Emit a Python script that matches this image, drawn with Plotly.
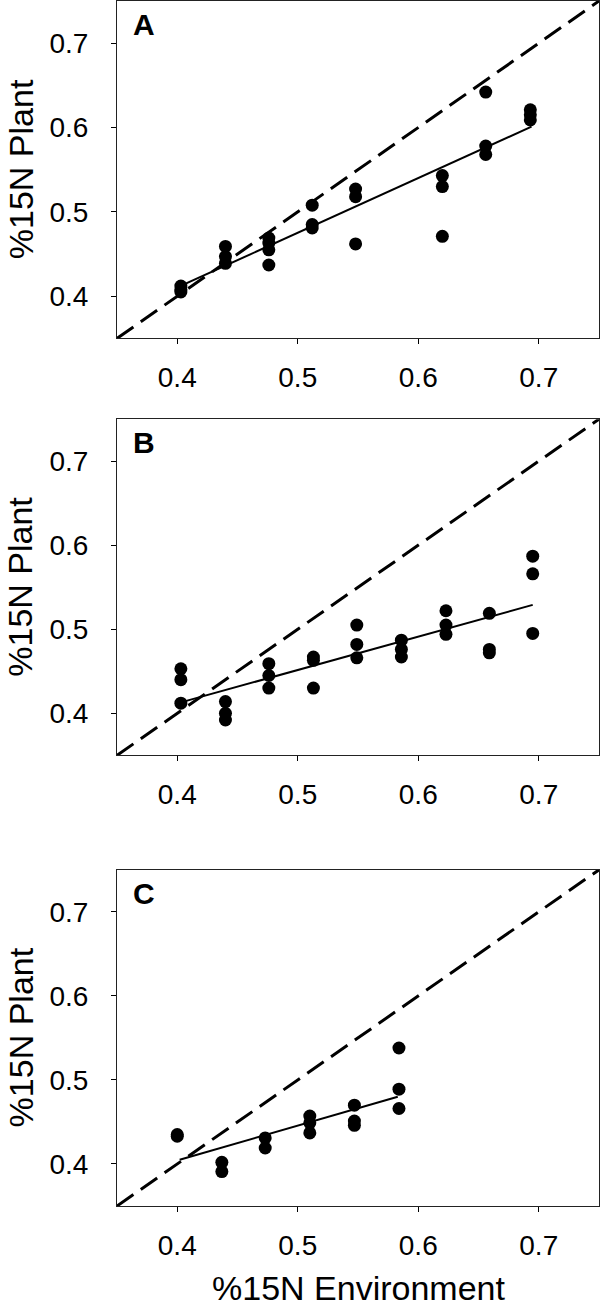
import plotly.graph_objects as go
from plotly.subplots import make_subplots

# --- data ---
panels = ["A", "B", "C"]

env_A = [0.403, 0.403, 0.403,
         0.440, 0.440, 0.440,
         0.476, 0.476, 0.476, 0.476,
         0.512, 0.512, 0.512,
         0.548, 0.548, 0.548,
         0.620, 0.620, 0.620,
         0.656, 0.656, 0.656,
         0.693, 0.693, 0.693]
plant_A = [0.412, 0.405, 0.408,
           0.459, 0.447, 0.439,
           0.469, 0.463, 0.455, 0.437,
           0.508, 0.485, 0.481,
           0.527, 0.518, 0.462,
           0.543, 0.530, 0.471,
           0.642, 0.578, 0.568,
           0.621, 0.615, 0.609]

env_B = [0.403, 0.403, 0.403,
         0.440, 0.440, 0.440,
         0.476, 0.476, 0.476,
         0.513, 0.513, 0.513,
         0.549, 0.549, 0.549,
         0.586, 0.586, 0.586,
         0.623, 0.623, 0.623,
         0.659, 0.659, 0.659,
         0.695, 0.695, 0.695]
plant_B = [0.453, 0.440, 0.412,
           0.414, 0.400, 0.392,
           0.459, 0.445, 0.430,
           0.467, 0.463, 0.430,
           0.505, 0.482, 0.466,
           0.487, 0.476, 0.467,
           0.522, 0.505, 0.494,
           0.519, 0.476, 0.472,
           0.587, 0.566, 0.495]

env_C = [0.400, 0.400,
         0.437, 0.437,
         0.473, 0.473,
         0.510, 0.510, 0.510,
         0.547, 0.547, 0.547,
         0.584, 0.584, 0.584]
plant_C = [0.435, 0.433,
           0.402, 0.391,
           0.431, 0.419,
           0.457, 0.449, 0.437,
           0.470, 0.451, 0.446,
           0.538, 0.489, 0.466]

# fitted regression lines (end points)
fit_x = {"A": [0.401, 0.694], "B": [0.403, 0.695], "C": [0.402, 0.583]}
fit_y = {"A": [0.411, 0.601], "B": [0.413, 0.529], "C": [0.405, 0.480]}

# 1:1 line
one_to_one = [0.35, 0.75]

tick_vals = [0.4, 0.5, 0.6, 0.7]
tick_text = ["0.4", "0.5", "0.6", "0.7"]

y_title = "%15N Plant"
x_title = "%15N Environment"

env = {"A": env_A, "B": env_B, "C": env_C}
plant = {"A": plant_A, "B": plant_B, "C": plant_C}

FONT = "Arial, Liberation Sans, sans-serif"
W, H = 600, 1309
ML, MR, MT, MB = 117, 1, 1, 103
plot_w = W - ML - MR
plot_h = H - MT - MB

fig = make_subplots(rows=3, cols=1)

for i, p in enumerate(panels, start=1):
    sfx = "" if i == 1 else str(i)
    fig.add_trace(go.Scatter(
        x=one_to_one, y=one_to_one, mode="lines",
        line=dict(color="black", width=3, dash="20px,9px"),
        showlegend=False, hoverinfo="skip",
    ), row=i, col=1)
    fig.add_trace(go.Scatter(
        x=fit_x[p], y=fit_y[p], mode="lines",
        line=dict(color="black", width=2),
        showlegend=False, hoverinfo="skip",
    ), row=i, col=1)
    fig.add_trace(go.Scatter(
        x=env[p], y=plant[p], mode="markers",
        marker=dict(color="black", size=13, line=dict(width=0)),
        showlegend=False,
    ), row=i, col=1)
    # panel letter
    fig.add_annotation(
        text=f"<b>{p}</b>", x=0.03, y=0.985,
        xref=f"x{sfx} domain", yref=f"y{sfx} domain",
        xanchor="left", yanchor="top", showarrow=False,
        font=dict(family=FONT, size=30, color="black"),
    )
    # y axis title, kept fully inside the page's left edge
    fig.add_annotation(
        text=y_title, textangle=-90,
        x=(20.5 - ML) / plot_w, y=0.5,
        xref="paper", yref=f"y{sfx} domain",
        xanchor="center", yanchor="middle", showarrow=False,
        borderpad=0,
        font=dict(family=FONT, size=34, color="black"),
    )

# x axis title under the bottom panel, kept inside the page's bottom edge
fig.add_annotation(
    text=x_title, x=0.5, y=-(1288 - (H - MB)) / plot_h,
    xref="paper", yref="paper",
    xanchor="center", yanchor="middle", showarrow=False,
    borderpad=0,
    font=dict(family=FONT, size=34, color="black"),
)

# domains in paper fractions (plot area spans pixel rows 1..1206)
y_domains = [[0.720, 1.0], [0.374, 0.653], [0.0, 0.279]]

axis_common = dict(
    range=[0.35, 0.75], tickvals=tick_vals, ticktext=tick_text,
    ticks="outside", ticklen=5, tickwidth=1, tickcolor="black",
    showline=True, linecolor="#222", linewidth=1, mirror=True,
    showgrid=False, zeroline=False, automargin=False,
    tickfont=dict(family=FONT, size=28, color="black"),
)

for i in range(1, 4):
    sfx = "" if i == 1 else str(i)
    fig.layout[f"xaxis{sfx}"].update(
        domain=[0, 1], ticklabelstandoff=9, **axis_common)
    fig.layout[f"yaxis{sfx}"].update(
        domain=y_domains[i - 1], ticklabelstandoff=17, **axis_common)

fig.update_layout(
    width=W, height=H,
    margin=dict(l=ML, r=MR, t=MT, b=MB),
    paper_bgcolor="white", plot_bgcolor="white",
    showlegend=False,
)

# drop the browser's default 8px page margin so the figure sits at (0, 0)
fig.write_html("out.html", config={"displayModeBar": False},
               post_script="document.body.style.margin='0';")
